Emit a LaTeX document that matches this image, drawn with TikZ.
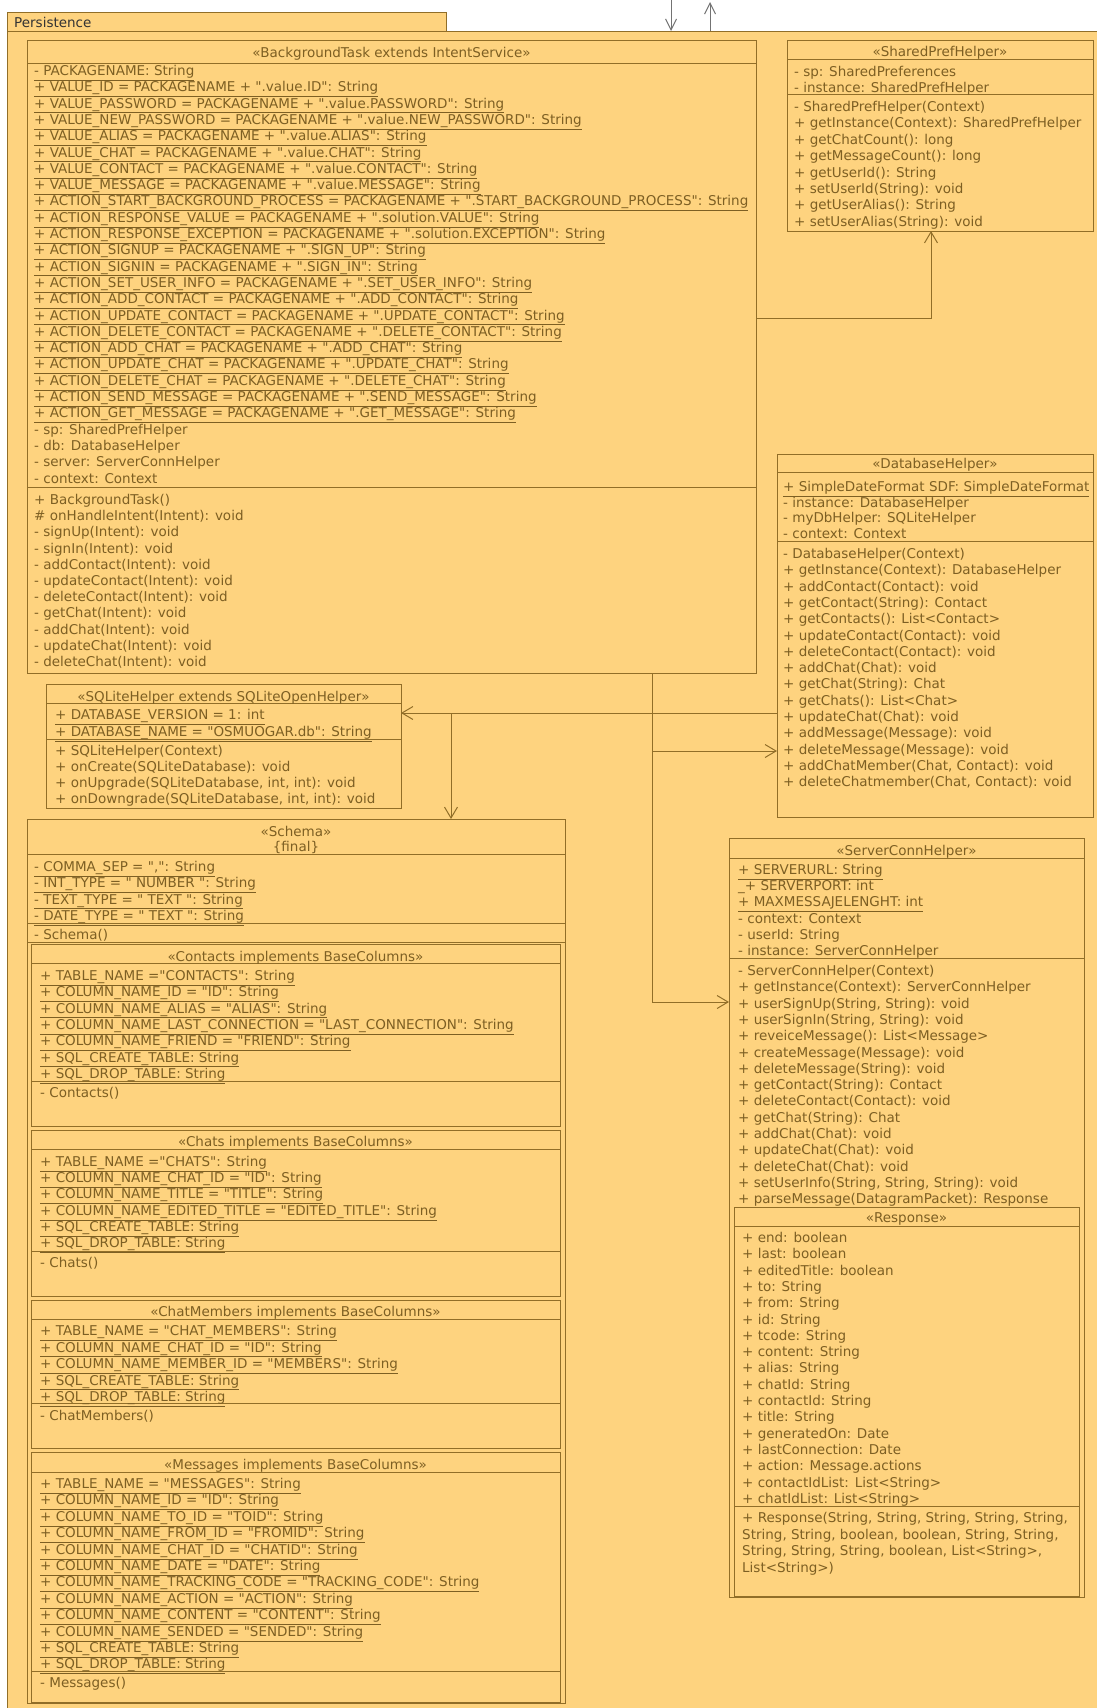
\documentclass[tikz,border=0pt]{standalone}
\usepackage{fontspec}
\setmainfont{DejaVu Sans}[Ligatures=TeXOff]
\usepackage{tikz}
\usetikzlibrary{arrows.meta}

\definecolor{umlfill}{RGB}{254,211,127}
\definecolor{umlline}{RGB}{145,110,40}
\definecolor{umltext}{RGB}{125,95,35}
\newcommand{\umlfont}{\fontsize{13.5pt}{16pt}\selectfont}

\begin{document}
\begin{tikzpicture}[x=1pt, y=-1pt,
    box/.style={draw=umlline, fill=umlfill, line width=1pt, inner sep=0pt,
                outer sep=0pt, anchor=north west},
    sep/.style={draw=umlline, line width=1pt},
    mem/.style={anchor=base west, inner sep=0pt, text=umltext, font=\umlfont},
    hdr/.style={anchor=base, inner sep=0pt, text=umltext, font=\umlfont},
    dep/.style={draw=umlline, line width=1pt,
                -{Straight Barb[length=11pt,width=13pt,line width=1pt]}},
    extdep/.style={draw=black!55, line width=1pt,
                -{Straight Barb[length=11pt,width=11pt,line width=1pt]}}]
  \useasboundingbox (0,0) rectangle (1096,1708);
  \fill[white] (0,0) rectangle (1096,1708);

  % package
  \node[box, minimum width=439, minimum height=19] (tab) at (7,12) {};
  \node[box, minimum width=1110, minimum height=1700] (pkg) at (7,31) {};
  \node[anchor=base west, inner sep=0pt, text=black!80, font=\umlfont] (pkg-name)
    at (14,27.5) {Persistence};
  \coordinate (ext-in) at (671,0);
  \coordinate (ext-out) at (710,2);
  \draw[extdep] (ext-in) -- (ext-in |- pkg.north);
  \draw[extdep] (ext-out |- pkg.north) -- (ext-out);

  % BackgroundTask
  \node[box, minimum width=729, minimum height=633] (bt) at (27,40) {};
  \draw[sep] (bt.west |- 0,63) -- (bt.east |- 0,63);
  \draw[sep] (bt.west |- 0,487) -- (bt.east |- 0,487);
  \node[hdr] (bt-h) at (bt.north |- 0,57.5) {«BackgroundTask extends IntentService»};
  \foreach \t [count=\i] in {\underline{- PACKAGENAME: String},
      \underline{+ VALUE\_ID = PACKAGENAME + ".value.ID": String},
      \underline{+ VALUE\_PASSWORD = PACKAGENAME + ".value.PASSWORD": String},
      \underline{+ VALUE\_NEW\_PASSWORD = PACKAGENAME + ".value.NEW\_PASSWORD": String},
      \underline{+ VALUE\_ALIAS = PACKAGENAME + ".value.ALIAS": String},
      \underline{+ VALUE\_CHAT = PACKAGENAME + ".value.CHAT": String},
      \underline{+ VALUE\_CONTACT = PACKAGENAME + ".value.CONTACT": String},
      \underline{+ VALUE\_MESSAGE = PACKAGENAME + ".value.MESSAGE": String},
      \underline{+ ACTION\_START\_BACKGROUND\_PROCESS = PACKAGENAME + ".START\_BACKGROUND\_PROCESS": String},
      \underline{+ ACTION\_RESPONSE\_VALUE = PACKAGENAME + ".solution.VALUE": String},
      \underline{+ ACTION\_RESPONSE\_EXCEPTION = PACKAGENAME + ".solution.EXCEPTION": String},
      \underline{+ ACTION\_SIGNUP = PACKAGENAME + ".SIGN\_UP": String},
      \underline{+ ACTION\_SIGNIN = PACKAGENAME + ".SIGN\_IN": String},
      \underline{+ ACTION\_SET\_USER\_INFO = PACKAGENAME + ".SET\_USER\_INFO": String},
      \underline{+ ACTION\_ADD\_CONTACT = PACKAGENAME + ".ADD\_CONTACT": String},
      \underline{+ ACTION\_UPDATE\_CONTACT = PACKAGENAME + ".UPDATE\_CONTACT": String},
      \underline{+ ACTION\_DELETE\_CONTACT = PACKAGENAME + ".DELETE\_CONTACT": String},
      \underline{+ ACTION\_ADD\_CHAT = PACKAGENAME + ".ADD\_CHAT": String},
      \underline{+ ACTION\_UPDATE\_CHAT = PACKAGENAME + ".UPDATE\_CHAT": String},
      \underline{+ ACTION\_DELETE\_CHAT = PACKAGENAME + ".DELETE\_CHAT": String},
      \underline{+ ACTION\_SEND\_MESSAGE = PACKAGENAME + ".SEND\_MESSAGE": String},
      \underline{+ ACTION\_GET\_MESSAGE = PACKAGENAME + ".GET\_MESSAGE": String},
      - sp: SharedPrefHelper, - db: DatabaseHelper,
      - server: ServerConnHelper, - context: Context}{
    \node[mem] (bt-a\i) at (34, 59.2+16.3*\i) {\t};}
  \foreach \t [count=\i] in {+ BackgroundTask(), \# onHandleIntent(Intent): void,
      - signUp(Intent): void, - signIn(Intent): void, - addContact(Intent): void,
      - updateContact(Intent): void, - deleteContact(Intent): void,
      - getChat(Intent): void, - addChat(Intent): void,
      - updateChat(Intent): void, - deleteChat(Intent): void}{
    \node[mem] (bt-m\i) at (34, 488.3+16.2*\i) {\t};}

  % SharedPrefHelper
  \node[box, minimum width=306, minimum height=191] (sph) at (787,40) {};
  \draw[sep] (sph.west |- 0,59) -- (sph.east |- 0,59);
  \draw[sep] (sph.west |- 0,94) -- (sph.east |- 0,94);
  \node[hdr] (sph-h) at (sph.north |- 0,56.5) {«SharedPrefHelper»};
  \foreach \t [count=\i] in {- sp: SharedPreferences, - instance: SharedPrefHelper}{
    \node[mem] (sph-a\i) at (794, 60.5+16*\i) {\t};}
  \foreach \t [count=\i] in {- SharedPrefHelper(Context),
      + getInstance(Context): SharedPrefHelper, + getChatCount(): long,
      + getMessageCount(): long, + getUserId(): String,
      + setUserId(String): void, + getUserAlias(): String,
      + setUserAlias(String): void}{
    \node[mem] (sph-m\i) at (794, 95.1+16.4*\i) {\t};}

  % DatabaseHelper
  \node[box, minimum width=316, minimum height=363] (dbh) at (777,454) {};
  \draw[sep] (dbh.west |- 0,472) -- (dbh.east |- 0,472);
  \draw[sep] (dbh.west |- 0,541) -- (dbh.east |- 0,541);
  \node[hdr] (dbh-h) at (dbh.north |- 0,468.5) {«DatabaseHelper»};
  \foreach \t [count=\i] in {\underline{+ SimpleDateFormat SDF: SimpleDateFormat},
      - instance: DatabaseHelper, - myDbHelper: SQLiteHelper, - context: Context}{
    \node[mem] (dbh-a\i) at (783, 475.8+15.7*\i) {\t};}
  \foreach \t [count=\i] in {- DatabaseHelper(Context),
      + getInstance(Context): DatabaseHelper, + addContact(Contact): void,
      + getContact(String): Contact, + getContacts(): List<Contact>,
      + updateContact(Contact): void, + deleteContact(Contact): void,
      + addChat(Chat): void, + getChat(String): Chat, + getChats(): List<Chat>,
      + updateChat(Chat): void, + addMessage(Message): void,
      + deleteMessage(Message): void, {+ addChatMember(Chat, Contact): void},
      {+ deleteChatmember(Chat, Contact): void}}{
    \node[mem] (dbh-m\i) at (783, 542.2+16.3*\i) {\t};}

  % SQLiteHelper
  \node[box, minimum width=355, minimum height=124] (sqh) at (46,684) {};
  \draw[sep] (sqh.west |- 0,703) -- (sqh.east |- 0,703);
  \draw[sep] (sqh.west |- 0,739) -- (sqh.east |- 0,739);
  \node[hdr] (sqh-h) at (sqh.north |- 0,701.5) {«SQLiteHelper extends SQLiteOpenHelper»};
  \foreach \t [count=\i] in {\underline{+ DATABASE\_VERSION = 1: int},
      \underline{+ DATABASE\_NAME = "OSMUOGAR.db": String}}{
    \node[mem] (sqh-a\i) at (55, 702.5+17*\i) {\t};}
  \foreach \t [count=\i] in {+ SQLiteHelper(Context),
      + onCreate(SQLiteDatabase): void,
      {+ onUpgrade(SQLiteDatabase, int, int): void},
      {+ onDowngrade(SQLiteDatabase, int, int): void}}{
    \node[mem] (sqh-m\i) at (55, 739.5+16*\i) {\t};}

  % Schema
  \node[box, minimum width=538, minimum height=884] (sch) at (27,819) {};
  \draw[sep] (sch.west |- 0,854) -- (sch.east |- 0,854);
  \draw[sep] (sch.west |- 0,923) -- (sch.east |- 0,923);
  \draw[sep] (sch.west |- 0,942) -- (sch.east |- 0,942);
  \node[hdr] (sch-h) at (sch.north |- 0,836.5) {«Schema»};
  \node[hdr] (sch-f) at (sch.north |- 0,851.5) {\{final\}};
  \foreach \t [count=\i] in {\underline{- COMMA\_SEP = ",": String},
      \underline{- INT\_TYPE = " NUMBER ": String},
      \underline{- TEXT\_TYPE = " TEXT ": String},
      \underline{- DATE\_TYPE = " TEXT ": String}}{
    \node[mem] (sch-a\i) at (34, 855.2+16.3*\i) {\t};}
  \node[mem] (sch-m1) at (34,939.5) {- Schema()};

  % Schema.Contacts
  \node[box, minimum width=529, minimum height=182] (ctc) at (31,944) {};
  \draw[sep] (ctc.west |- 0,963) -- (ctc.east |- 0,963);
  \draw[sep] (ctc.west |- 0,1081) -- (ctc.east |- 0,1081);
  \node[hdr] (ctc-h) at (ctc.north |- 0,961.5) {«Contacts implements BaseColumns»};
  \foreach \t [count=\i] in {\underline{+ TABLE\_NAME ="CONTACTS": String},
      \underline{+ COLUMN\_NAME\_ID = "ID": String},
      \underline{+ COLUMN\_NAME\_ALIAS = "ALIAS": String},
      \underline{+ COLUMN\_NAME\_LAST\_CONNECTION = "LAST\_CONNECTION": String},
      \underline{+ COLUMN\_NAME\_FRIEND = "FRIEND": String},
      \underline{+ SQL\_CREATE\_TABLE: String},
      \underline{+ SQL\_DROP\_TABLE: String}}{
    \node[mem] (ctc-a\i) at (40, 964.2+16.3*\i) {\t};}
  \node[mem] (ctc-m1) at (40,1097.5) {- Contacts()};

  % Schema.Chats
  \node[box, minimum width=529, minimum height=166] (cht) at (31,1130) {};
  \draw[sep] (cht.west |- 0,1149) -- (cht.east |- 0,1149);
  \draw[sep] (cht.west |- 0,1251) -- (cht.east |- 0,1251);
  \node[hdr] (cht-h) at (cht.north |- 0,1146.5) {«Chats implements BaseColumns»};
  \foreach \t [count=\i] in {\underline{+ TABLE\_NAME ="CHATS": String},
      \underline{+ COLUMN\_NAME\_CHAT\_ID = "ID": String},
      \underline{+ COLUMN\_NAME\_TITLE = "TITLE": String},
      \underline{+ COLUMN\_NAME\_EDITED\_TITLE = "EDITED\_TITLE": String},
      \underline{+ SQL\_CREATE\_TABLE: String},
      \underline{+ SQL\_DROP\_TABLE: String}}{
    \node[mem] (cht-a\i) at (40, 1150.3+16.2*\i) {\t};}
  \node[mem] (cht-m1) at (40,1267.5) {- Chats()};

  % Schema.ChatMembers
  \node[box, minimum width=529, minimum height=148] (chm) at (31,1300) {};
  \draw[sep] (chm.west |- 0,1319) -- (chm.east |- 0,1319);
  \draw[sep] (chm.west |- 0,1403) -- (chm.east |- 0,1403);
  \node[hdr] (chm-h) at (chm.north |- 0,1316.5) {«ChatMembers implements BaseColumns»};
  \foreach \t [count=\i] in {\underline{+ TABLE\_NAME = "CHAT\_MEMBERS": String},
      \underline{+ COLUMN\_NAME\_CHAT\_ID = "ID": String},
      \underline{+ COLUMN\_NAME\_MEMBER\_ID = "MEMBERS": String},
      \underline{+ SQL\_CREATE\_TABLE: String},
      \underline{+ SQL\_DROP\_TABLE: String}}{
    \node[mem] (chm-a\i) at (40, 1319+16.5*\i) {\t};}
  \node[mem] (chm-m1) at (40,1420.5) {- ChatMembers()};

  % Schema.Messages
  \node[box, minimum width=529, minimum height=250] (msg) at (31,1452) {};
  \draw[sep] (msg.west |- 0,1472) -- (msg.east |- 0,1472);
  \draw[sep] (msg.west |- 0,1671) -- (msg.east |- 0,1671);
  \node[hdr] (msg-h) at (msg.north |- 0,1469.5) {«Messages implements BaseColumns»};
  \foreach \t [count=\i] in {\underline{+ TABLE\_NAME = "MESSAGES": String},
      \underline{+ COLUMN\_NAME\_ID = "ID": String},
      \underline{+ COLUMN\_NAME\_TO\_ID = "TOID": String},
      \underline{+ COLUMN\_NAME\_FROM\_ID = "FROMID": String},
      \underline{+ COLUMN\_NAME\_CHAT\_ID = "CHATID": String},
      \underline{+ COLUMN\_NAME\_DATE = "DATE": String},
      \underline{+ COLUMN\_NAME\_TRACKING\_CODE = "TRACKING\_CODE": String},
      \underline{+ COLUMN\_NAME\_ACTION = "ACTION": String},
      \underline{+ COLUMN\_NAME\_CONTENT = "CONTENT": String},
      \underline{+ COLUMN\_NAME\_SENDED = "SENDED": String},
      \underline{+ SQL\_CREATE\_TABLE: String},
      \underline{+ SQL\_DROP\_TABLE: String}}{
    \node[mem] (msg-a\i) at (40, 1472.1+16.4*\i) {\t};}
  \node[mem] (msg-m1) at (40,1687.5) {- Messages()};

  % ServerConnHelper
  \node[box, minimum width=355, minimum height=759] (srv) at (729,838) {};
  \draw[sep] (srv.west |- 0,858) -- (srv.east |- 0,858);
  \draw[sep] (srv.west |- 0,958) -- (srv.east |- 0,958);
  \node[hdr] (srv-h) at (srv.north |- 0,855.5) {«ServerConnHelper»};
  \foreach \t [count=\i] in {\underline{+ SERVERURL: String},
      \_+ SERVERPORT: int, \underline{+ MAXMESSAJELENGHT: int},
      - context: Context, - userId: String, - instance: ServerConnHelper}{
    \node[mem] (srv-a\i) at (738, 858.3+16.2*\i) {\t};}
  \foreach \t [count=\i] in {- ServerConnHelper(Context),
      + getInstance(Context): ServerConnHelper,
      {+ userSignUp(String, String): void}, {+ userSignIn(String, String): void},
      + reveiceMessage(): List<Message>, + createMessage(Message): void,
      + deleteMessage(String): void, + getContact(String): Contact,
      + deleteContact(Contact): void, + getChat(String): Chat,
      + addChat(Chat): void, + updateChat(Chat): void, + deleteChat(Chat): void,
      {+ setUserInfo(String, String, String): void},
      \underline{+ parseMessage(DatagramPacket): Response}}{
    \node[mem] (srv-m\i) at (738, 959.2+16.3*\i) {\t};}

  % ServerConnHelper.Response
  \node[box, minimum width=345, minimum height=389] (rsp) at (734,1207) {};
  \draw[sep] (rsp.west |- 0,1226) -- (rsp.east |- 0,1226);
  \draw[sep] (rsp.west |- 0,1506) -- (rsp.east |- 0,1506);
  \node[hdr] (rsp-h) at (rsp.north |- 0,1222.5) {«Response»};
  \foreach \t [count=\i] in {+ end: boolean, + last: boolean,
      + editedTitle: boolean, + to: String, + from: String, + id: String,
      + tcode: String, + content: String, + alias: String, + chatId: String,
      + contactId: String, + title: String, + generatedOn: Date,
      + lastConnection: Date, + action: Message.actions,
      + contactIdList: List<String>, + chatIdList: List<String>}{
    \node[mem] (rsp-a\i) at (742, 1226.2+16.3*\i) {\t};}
  \foreach \t [count=\i] in {{+ Response(String, String, String, String, String,},
      {String, String, boolean, boolean, String, String,},
      {String, String, String, boolean, List<String>,},
      List<String>)}{
    \node[mem] (rsp-m\i) at (742, 1505.8+16.7*\i) {\t};}

  % dependencies
  \coordinate (sp-turn) at (931,318);
  \coordinate (trunk) at (652,1002);
  \coordinate (db-in) at (652,751);
  \coordinate (sql-split) at (451,713);
  \draw[dep] (bt.east |- sp-turn) -| (sph.south -| sp-turn);
  \draw[dep] (bt.south -| trunk) |- (srv.west |- trunk);
  \draw[dep] (db-in) -- (dbh.west |- db-in);
  \draw[dep] (dbh.west |- sql-split) -- (sqh.east |- sql-split);
  \draw[dep] (sql-split) -- (sch.north -| sql-split);
\end{tikzpicture}
\end{document}
